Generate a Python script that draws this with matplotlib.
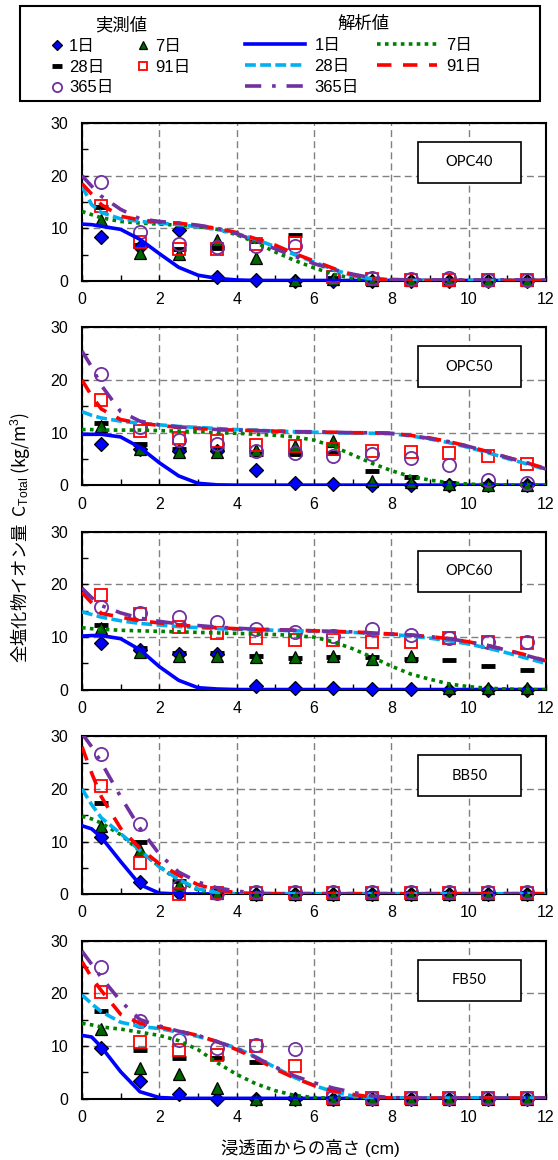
import matplotlib
matplotlib.use('Agg')
import matplotlib.pyplot as plt
from matplotlib.lines import Line2D
from matplotlib.patches import Rectangle
from matplotlib.ticker import MultipleLocator

plt.rcParams['font.family'] = ['Liberation Sans', 'Noto Sans CJK JP']
plt.rcParams['mathtext.fontset'] = 'custom'
plt.rcParams['mathtext.rm'] = 'Liberation Sans'
plt.rcParams['mathtext.it'] = 'Liberation Sans:italic'

AGES = [1, 7, 28, 91, 365]
AGE_LABELS = ['1日', '7日', '28日', '91日', '365日']
SPECIMENS = ['OPC40', 'OPC50', 'OPC60', 'BB50', 'FB50']

# sliced sample heights (cm)
X_MEAS = [0.5, 1.5, 2.5, 3.5, 4.5, 5.5, 6.5, 7.5, 8.5, 9.5, 10.5, 11.5]
# analysis output heights (cm)
X_CALC = [0, 0.25, 0.5, 1, 1.5, 2, 2.5, 3, 3.5, 4, 4.5, 5, 5.5, 6, 6.5,
          7, 7.5, 8, 8.5, 9, 9.5, 10, 10.5, 11, 11.5, 12]

# measured total chloride (kg/m3)
opc40_meas = {
    1:   [8.3, 6.5, 9.6, 0.7, 0.2, 0.0, 0.0, 0.0, 0.0, 0.0, 0.0, 0.0],
    7:   [11.6, 5.4, 5.2, 7.8, 4.4, 0.2, 0.4, 0.1, 0.1, 0.1, 0.1, 0.1],
    28:  [14.0, 6.8, 6.0, 6.3, 7.6, 8.7, 0.6, 0.2, 0.2, 0.2, 0.2, 0.2],
    91:  [14.2, 7.4, 6.0, 6.1, 7.0, 7.3, 0.8, 0.3, 0.2, 0.2, 0.2, 0.2],
    365: [18.8, 9.3, 7.0, 6.5, 6.6, 6.6, 1.0, 0.6, 0.4, 0.5, 0.2, 0.2],
}
opc50_meas = {
    1:   [7.9, 7.0, 6.5, 6.5, 2.9, 0.4, 0.2, 0.1, 0.1, 0.0, 0.0, 0.0],
    7:   [11.2, 6.9, 6.3, 6.3, 6.8, 7.5, 8.4, 0.8, 0.6, 0.3, 0.1, 0.1],
    28:  [11.9, 7.8, 6.9, 6.9, 5.9, 6.0, 6.2, 2.8, 1.5, 0.5, 0.3, 0.2],
    91:  [16.3, 10.3, 9.0, 8.4, 7.7, 7.4, 7.0, 6.5, 6.3, 6.2, 5.6, 4.0],
    365: [21.1, 11.0, 8.7, 7.8, 6.6, 6.1, 5.6, 5.9, 5.2, 3.8, 1.1, 0.5],
}
opc60_meas = {
    1:   [8.8, 7.5, 6.8, 6.8, 0.7, 0.3, 0.3, 0.1, 0.1, 0.0, 0.0, 0.0],
    7:   [11.8, 7.2, 6.5, 6.5, 6.2, 6.2, 6.5, 5.9, 6.5, 0.4, 0.3, 0.3],
    28:  [12.3, 8.0, 7.0, 7.0, 6.5, 6.0, 6.2, 6.2, 5.8, 5.7, 4.6, 3.8],
    91:  [18.0, 14.4, 11.9, 10.8, 9.8, 9.5, 9.5, 9.0, 9.0, 9.8, 9.0, 8.9],
    365: [15.7, 14.6, 13.9, 12.8, 11.5, 10.9, 10.3, 11.6, 10.5, 9.9, 9.0, 9.0],
}
bb50_meas = {
    1:   [10.8, 2.3, 0.3, 0.2, 0.1, 0.1, 0.1, 0.1, 0.1, 0.1, 0.1, 0.1],
    7:   [12.9, 8.4, 1.8, 0.3, 0.1, 0.1, 0.1, 0.1, 0.1, 0.1, 0.1, 0.1],
    28:  [17.3, 10.0, 2.5, 0.5, 0.2, 0.2, 0.2, 0.2, 0.2, 0.2, 0.2, 0.2],
    91:  [20.5, 6.0, 0.0, 0.2, 0.2, 0.2, 0.2, 0.2, 0.2, 0.2, 0.2, 0.2],
    365: [26.6, 13.3, 1.5, 0.3, 0.4, 0.4, 0.4, 0.4, 0.4, 0.4, 0.4, 0.4],
}
fb50_meas = {
    1:   [9.6, 3.3, 0.9, 0.0, 0.0, 0.0, 0.0, 0.0, 0.0, 0.0, 0.0, 0.0],
    7:   [13.2, 5.9, 4.6, 2.0, 0.0, 0.0, 0.0, 0.0, 0.0, 0.0, 0.0, 0.0],
    28:  [16.7, 9.2, 7.8, 7.8, 7.0, 0.2, 0.1, 0.1, 0.1, 0.1, 0.1, 0.1],
    91:  [20.3, 10.8, 9.3, 8.3, 10.0, 6.2, 0.2, 0.2, 0.2, 0.2, 0.2, 0.2],
    365: [25.0, 14.7, 11.2, 9.6, 10.1, 9.4, 0.3, 0.2, 0.2, 0.2, 0.2, 0.2],
}

# analysis results (kg/m3)
opc40_calc = {
    1:   [10.8, 10.7, 10.4, 9.8, 7.9, 5.2, 2.6, 1.1, 0.5, 0.2, 0.1, 0.1, 0.1,
          0.1, 0.1, 0.1, 0.1, 0.1, 0.1, 0.1, 0.1, 0.1, 0.1, 0.1, 0.1, 0.1],
    7:   [13.2, 12.6, 12.0, 11.3, 11.0, 10.8, 10.6, 10.3, 9.8, 8.8, 7.3, 5.5, 3.9,
          2.5, 1.3, 0.5, 0.2, 0.1, 0.1, 0.1, 0.1, 0.1, 0.1, 0.1, 0.1, 0.1],
    28:  [18.0, 14.5, 13.0, 11.8, 11.3, 11.0, 10.7, 10.3, 9.8, 9.0, 7.9, 6.5, 5.0,
          3.6, 2.2, 1.0, 0.4, 0.2, 0.1, 0.1, 0.1, 0.1, 0.1, 0.1, 0.1, 0.1],
    91:  [18.5, 16.5, 14.5, 12.3, 11.6, 11.2, 11.0, 10.5, 10.0, 9.2, 8.0, 6.8, 5.2,
          3.8, 2.4, 1.2, 0.5, 0.2, 0.1, 0.1, 0.1, 0.1, 0.1, 0.1, 0.1, 0.1],
    365: [20.0, 18.0, 16.1, 13.6, 11.8, 11.3, 11.0, 10.6, 10.0, 9.0, 7.6, 6.1, 4.7,
          3.3, 2.2, 1.3, 0.6, 0.3, 0.2, 0.2, 0.2, 0.2, 0.2, 0.2, 0.2, 0.2],
}
opc50_calc = {
    1:   [9.7, 9.7, 9.7, 9.2, 7.2, 4.3, 1.8, 0.4, 0.1, 0.05, 0.05, 0.05, 0.05,
          0.05, 0.05, 0.05, 0.05, 0.05, 0.05, 0.05, 0.05, 0.05, 0.05, 0.05, 0.05, 0.05],
    7:   [10.6, 10.6, 10.5, 10.5, 10.5, 10.4, 10.3, 10.2, 10.0, 9.9, 9.7, 9.5, 9.2,
          8.6, 7.4, 5.8, 4.2, 2.8, 1.7, 1.0, 0.5, 0.25, 0.1, 0.05, 0.05, 0.05],
    28:  [14.0, 13.3, 12.8, 12.2, 11.8, 11.5, 11.2, 11.0, 10.8, 10.6, 10.5, 10.3, 10.2,
          10.1, 10.0, 9.9, 9.9, 9.8, 9.4, 8.8, 8.1, 7.2, 6.2, 5.1, 4.1, 3.0],
    91:  [20.0, 17.0, 14.5, 12.5, 11.8, 11.4, 11.0, 10.8, 10.6, 10.5, 10.4, 10.3, 10.2,
          10.1, 10.1, 10.0, 10.0, 9.9, 9.5, 9.0, 8.3, 7.4, 6.4, 5.3, 4.3, 3.2],
    365: [25.5, 22.5, 19.0, 14.0, 12.2, 11.5, 11.1, 10.9, 10.6, 10.5, 10.4, 10.3, 10.2,
          10.2, 10.1, 10.0, 10.0, 9.9, 9.5, 8.9, 8.3, 7.4, 6.4, 5.3, 4.3, 3.1],
}
opc60_calc = {
    1:   [10.2, 10.3, 10.3, 9.7, 7.6, 4.4, 1.8, 0.4, 0.15, 0.05, 0.05, 0.05, 0.05,
          0.05, 0.05, 0.05, 0.05, 0.05, 0.05, 0.05, 0.05, 0.05, 0.05, 0.05, 0.05, 0.05],
    7:   [11.8, 11.6, 11.5, 11.3, 11.2, 11.1, 11.0, 10.9, 10.8, 10.7, 10.6, 10.5, 10.3,
          10.0, 9.1, 7.8, 6.2, 4.5, 3.0, 2.0, 1.1, 0.6, 0.3, 0.15, 0.05, 0.0],
    28:  [14.8, 14.3, 13.8, 13.1, 12.6, 12.3, 12.0, 11.8, 11.6, 11.5, 11.4, 11.3, 11.2,
          11.1, 11.0, 10.9, 10.7, 10.5, 10.2, 9.8, 9.3, 8.7, 7.9, 7.0, 6.0, 5.0],
    91:  [18.5, 16.5, 14.5, 13.8, 13.1, 12.7, 12.3, 12.0, 11.8, 11.6, 11.5, 11.4, 11.3,
          11.2, 11.1, 11.0, 10.8, 10.6, 10.4, 10.1, 9.7, 9.1, 8.4, 7.5, 6.6, 5.5],
    365: [19.3, 17.5, 16.0, 14.6, 13.6, 13.0, 12.5, 12.2, 11.9, 11.7, 11.5, 11.4, 11.3,
          11.2, 11.1, 11.0, 10.8, 10.6, 10.4, 10.1, 9.7, 9.1, 8.4, 7.5, 6.5, 5.5],
}
bb50_calc = {
    1:   [13.0, 12.4, 10.8, 6.2, 1.8, 0.2, 0.05, 0.05, 0.05, 0.05, 0.05, 0.05, 0.05,
          0.05, 0.05, 0.05, 0.05, 0.05, 0.05, 0.05, 0.05, 0.05, 0.05, 0.05, 0.05, 0.05],
    7:   [14.8, 14.3, 13.5, 11.3, 8.2, 5.3, 2.5, 0.8, 0.2, 0.05, 0.05, 0.05, 0.05,
          0.05, 0.05, 0.05, 0.05, 0.05, 0.05, 0.05, 0.05, 0.05, 0.05, 0.05, 0.05, 0.05],
    28:  [20.0, 17.0, 14.5, 11.5, 8.3, 5.2, 2.8, 1.0, 0.3, 0.1, 0.1, 0.1, 0.1,
          0.1, 0.1, 0.1, 0.1, 0.1, 0.1, 0.1, 0.1, 0.1, 0.1, 0.1, 0.1, 0.1],
    91:  [28.0, 23.0, 18.5, 12.5, 8.7, 5.8, 3.6, 1.8, 0.8, 0.3, 0.1, 0.1, 0.1,
          0.1, 0.1, 0.1, 0.1, 0.1, 0.1, 0.1, 0.1, 0.1, 0.1, 0.1, 0.1, 0.1],
    365: [30.5, 28.0, 25.0, 18.5, 12.5, 7.6, 4.2, 2.3, 1.2, 0.6, 0.2, 0.1, 0.1,
          0.1, 0.1, 0.1, 0.1, 0.1, 0.1, 0.1, 0.1, 0.1, 0.1, 0.1, 0.1, 0.1],
}
fb50_calc = {
    1:   [12.0, 11.7, 9.8, 5.1, 1.3, 0.2, 0.05, 0.05, 0.05, 0.05, 0.05, 0.05, 0.05,
          0.05, 0.05, 0.05, 0.05, 0.05, 0.05, 0.05, 0.05, 0.05, 0.05, 0.05, 0.05, 0.05],
    7:   [14.3, 14.0, 13.6, 13.2, 12.6, 12.0, 11.0, 9.3, 6.8, 4.6, 2.8, 1.5, 0.6,
          0.2, 0.05, 0.05, 0.05, 0.05, 0.05, 0.05, 0.05, 0.05, 0.05, 0.05, 0.05, 0.05],
    28:  [19.7, 18.0, 16.5, 14.5, 13.7, 13.3, 12.6, 11.8, 10.8, 9.6, 7.9, 5.9, 4.0,
          2.5, 1.3, 0.5, 0.15, 0.1, 0.1, 0.1, 0.1, 0.1, 0.1, 0.1, 0.1, 0.1],
    91:  [26.0, 23.0, 20.5, 16.0, 14.3, 13.6, 12.8, 12.0, 10.8, 9.3, 7.6, 5.6, 3.9,
          2.5, 1.5, 0.8, 0.3, 0.1, 0.1, 0.1, 0.1, 0.1, 0.1, 0.1, 0.1, 0.1],
    365: [28.0, 25.5, 23.0, 18.5, 15.0, 13.8, 12.8, 12.0, 10.8, 9.5, 7.8, 6.0, 4.3,
          3.0, 2.0, 1.2, 0.5, 0.2, 0.1, 0.1, 0.1, 0.1, 0.1, 0.1, 0.1, 0.1],
}

MEAS = {'OPC40': opc40_meas, 'OPC50': opc50_meas, 'OPC60': opc60_meas,
        'BB50': bb50_meas, 'FB50': fb50_meas}
CALC = {'OPC40': opc40_calc, 'OPC50': opc50_calc, 'OPC60': opc60_calc,
        'BB50': bb50_calc, 'FB50': fb50_calc}

MARKER = {
    1:   dict(marker='D', ms=7.5, mfc='#0000FF', mec='black', mew=0.9),
    7:   dict(marker='^', ms=8.5, mfc='#006400', mec='black', mew=0.9),
    28:  dict(marker='_', ms=9.5, mew=3.5, color='black'),
    91:  dict(marker='s', ms=9, mfc='none', mec='#FF0000', mew=1.3),
    365: dict(marker='o', ms=9.5, mfc='none', mec='#7030A0', mew=1.3),
}
LW = 2.6
LINE = {
    1:   dict(color='#0000FF', lw=LW, ls='-'),
    7:   dict(color='#008000', lw=LW, ls=(0, (1, 1.2))),
    28:  dict(color='#00B0F0', lw=LW, ls=(0, (3, 1.2))),
    91:  dict(color='#FF0000', lw=LW, ls=(0, (4, 3.2))),
    365: dict(color='#7030A0', lw=LW, ls=(0, (4.5, 3, 1, 3))),
}

W, H = 558, 1160
fig = plt.figure(figsize=(W / 100, H / 100), dpi=100)

for i, name in enumerate(SPECIMENS):
    top = 123 + i * 204.4
    ax = fig.add_axes([82 / W, 1 - (top + 158) / H, 464 / W, 158 / H])
    meas = MEAS[name]
    calc = CALC[name]
    for age in [28, 1, 7, 91, 365]:
        ax.plot(X_MEAS, meas[age], ls='none', clip_on=False, zorder=3, **MARKER[age])
    for age in AGES:
        ax.plot(X_CALC, calc[age], zorder=4, **LINE[age])

    ax.set_xlim(0, 12)
    ax.set_ylim(0, 30)
    ax.xaxis.set_major_locator(MultipleLocator(2))
    ax.xaxis.set_minor_locator(MultipleLocator(1))
    ax.yaxis.set_major_locator(MultipleLocator(10))
    ax.yaxis.set_minor_locator(MultipleLocator(5))
    ax.tick_params(which='both', direction='in', length=4, width=1)
    ax.tick_params(axis='x', labelsize=11.5, pad=8)
    ax.tick_params(axis='y', labelsize=11.5, pad=10)
    ax.set_axisbelow(True)
    ax.grid(True, which='major', color='#808080', ls=(0, (5, 3)), lw=1)
    for sp in ax.spines.values():
        sp.set_linewidth(1.5)

    ax.add_patch(Rectangle((0.724, 0.62), 0.222, 0.26, transform=ax.transAxes,
                           fc='white', ec='black', lw=1.2, zorder=5))
    ax.text(0.835, 0.75, name, transform=ax.transAxes, ha='center', va='center',
            fontsize=10.5, family='Lato', zorder=6)

# legend: measured values
order = [0, 2, 4, 1, 3]
meas_handles = [Line2D([], [], ls='none', **MARKER[a]) for a in AGES]
fig.legend([meas_handles[k] for k in order], [AGE_LABELS[k] for k in order],
           ncol=2, loc='upper left', bbox_to_anchor=(44 / W, 1 - 8 / H),
           frameon=False, title='実測値', fontsize=12, title_fontsize=12.5,
           markerscale=0.7, handlelength=0.6, handletextpad=0.4,
           columnspacing=1.5, labelspacing=0.35, borderpad=0)

# legend: analysis values
calc_handles = [Line2D([], [], **LINE[a]) for a in AGES]
fig.legend([calc_handles[k] for k in order], [AGE_LABELS[k] for k in order],
           ncol=2, loc='upper left', bbox_to_anchor=(237 / W, 1 - 8 / H),
           frameon=False, title='解析値', fontsize=12, title_fontsize=12.5,
           handlelength=3.6, handletextpad=0.55,
           columnspacing=1.1, labelspacing=0.35, borderpad=0)

fig.add_artist(Rectangle((20 / W, 1 - 101 / H), 520 / W, 95 / H,
                         transform=fig.transFigure, fill=False, ec='black', lw=1.5))

fig.text(20 / W, 1 - 537 / H, '全塩化物イオン量  C$_{\\mathrm{Total}}$ (kg/m$^3$)',
         rotation=90, ha='center', va='center', fontsize=12.5,
         family='Noto Sans CJK JP')
fig.text(310 / W, 1 - 1148 / H, '浸透面からの高さ (cm)', ha='center', va='center',
         fontsize=12.5)

fig.savefig('out.png', dpi=100)
